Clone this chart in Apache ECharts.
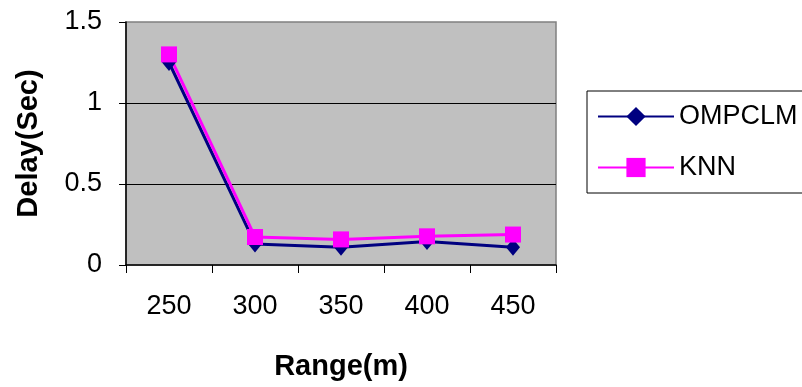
<!DOCTYPE html>
<html>
<head>
<meta charset="utf-8">
<title>Delay vs Range</title>
<script src="https://cdn.jsdelivr.net/npm/echarts@6.0.0/dist/echarts.min.js"></script>
<style>
  html, body { margin: 0; padding: 0; background: #fff; }
  #chart { width: 802px; height: 387px; }
</style>
</head>
<body>
<div id="chart"></div>
<script>
const ranges = ['250', '300', '350', '400', '450'];
const ompclm = [1.25, 0.13, 0.11, 0.145, 0.11];
const knn = [1.3, 0.173, 0.158, 0.177, 0.188];

const font = '"Liberation Sans", Arial, sans-serif';
const chart = echarts.init(document.getElementById('chart'));

const options = {
  animation: false,
  backgroundColor: '#fff',
  textStyle: { fontFamily: font },
  grid: {
    left: 126,
    right: 246,
    top: 22,
    bottom: 122,
    show: true,
    backgroundColor: '#c0c0c0',
    borderColor: '#808080',
    borderWidth: 1.5,
  },
  legend: {
    orient: 'vertical',
    left: 587,
    top: 91,
    padding: [12, 10, 12, 10],
    itemWidth: 76,
    itemHeight: 24,
    itemGap: 24,
    backgroundColor: '#fff',
    borderColor: '#000',
    borderWidth: 1,
    borderRadius: 0,
    lineStyle: { width: 2 },
    textStyle: { fontSize: 27, color: '#000', fontFamily: font },
    data: ['OMPCLM', 'KNN'],
  },
  xAxis: {
    type: 'category',
    data: ranges,
    boundaryGap: true,
    name: 'Range(m)',
    nameLocation: 'middle',
    nameGap: 87,
    nameTextStyle: { fontSize: 29, fontWeight: 'bold', color: '#000', fontFamily: font },
    axisLine: { lineStyle: { color: '#000', width: 1.5 } },
    axisTick: { show: true, length: 8, lineStyle: { color: '#000' } },
    axisLabel: { fontSize: 27, color: '#000', margin: 28, fontFamily: font },
    splitLine: { show: false },
  },
  yAxis: {
    type: 'value',
    min: 0,
    max: 1.5,
    interval: 0.5,
    name: 'Delay(Sec)',
    nameLocation: 'middle',
    nameGap: 83,
    nameTextStyle: { fontSize: 29, fontWeight: 'bold', color: '#000', fontFamily: font },
    axisLine: { show: true, lineStyle: { color: '#000', width: 1.5 } },
    axisTick: { show: true, length: 7, lineStyle: { color: '#000' } },
    axisLabel: { fontSize: 27, color: '#000', margin: 24, fontFamily: font },
    splitLine: { show: true, showMinLine: false, showMaxLine: false, lineStyle: { color: '#000', width: 1 } },
  },
  series: [
    {
      name: 'OMPCLM',
      type: 'line',
      data: ompclm,
      symbol: 'diamond',
      symbolSize: [14, 17],
      lineStyle: { color: '#000080', width: 3 },
      itemStyle: { color: '#000080' },
    },
    {
      name: 'KNN',
      type: 'line',
      data: knn,
      symbol: 'rect',
      symbolSize: 16,
      lineStyle: { color: '#ff00ff', width: 3 },
      itemStyle: { color: '#ff00ff' },
    },
  ],
};

chart.setOption(options);
</script>
</body>
</html>
